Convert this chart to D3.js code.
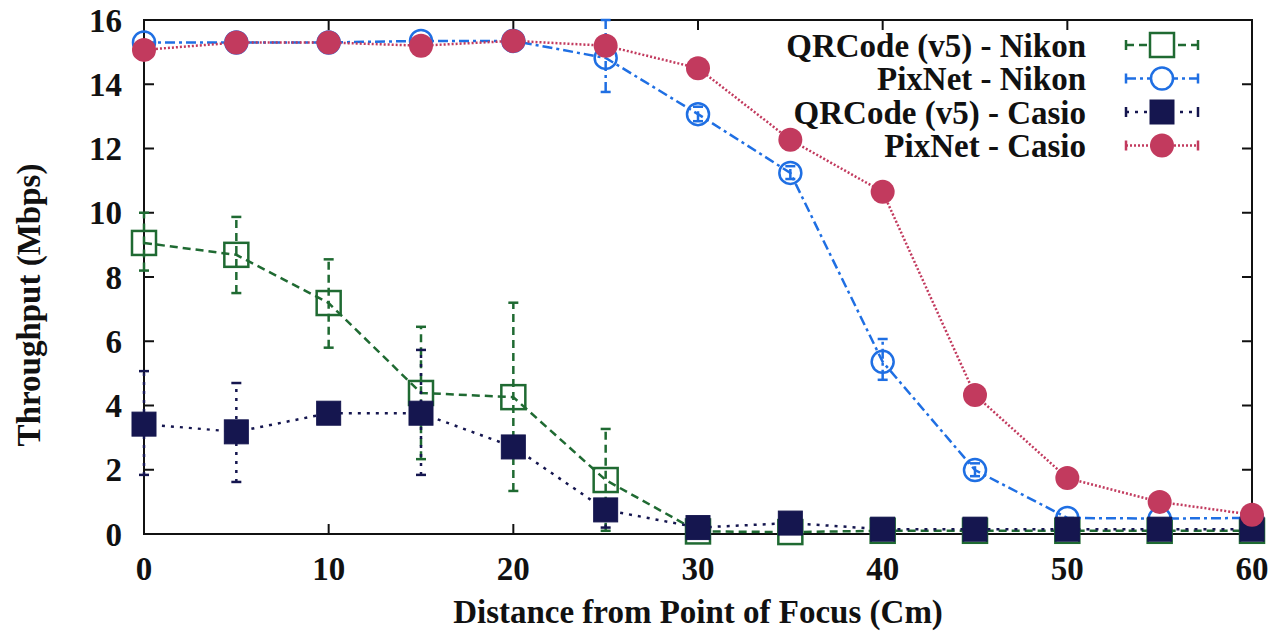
<!DOCTYPE html>
<html>
<head>
<meta charset="utf-8">
<script src="https://cdn.jsdelivr.net/npm/d3@7"></script>
<style>
  body { margin: 0; background: #fff; }
  svg text { font-family: "Liberation Serif", "Times New Roman", serif; font-weight: bold; fill: #111; }
</style>
</head>
<body>
<div id="chart"></div>
<script>
// distance from point of focus (cm)
const distances = [0, 5, 10, 15, 20, 25, 30, 35, 40, 45, 50, 55, 60];

// throughput (Mbps) per series, with error bar low/high
const qrNikon     = [9.06, 8.69, 7.19, 4.39, 4.26, 1.68, 0.08, 0.06, 0.1, 0.1, 0.1, 0.1, 0.1];
const qrNikonLo   = [8.2, 7.5, 5.8, 2.33, 1.34, 0.1, 0.05, 0.05, 0.1, 0.1, 0.1, 0.1, 0.1];
const qrNikonHi   = [10.0, 9.87, 8.55, 6.45, 7.2, 3.27, 0.1, 0.1, 0.1, 0.1, 0.1, 0.1, 0.1];

const pixNikon    = [15.3, 15.3, 15.3, 15.35, 15.35, 14.82, 13.07, 11.24, 5.36, 1.99, 0.5, 0.48, 0.5];
const pixNikonLo  = [15.3, 15.3, 15.3, 15.35, 15.35, 13.76, 12.85, 11.05, 4.8, 1.8, 0.5, 0.48, 0.5];
const pixNikonHi  = [15.3, 15.3, 15.3, 15.35, 15.35, 16.0, 13.3, 11.45, 6.07, 2.2, 0.5, 0.48, 0.5];

const qrCasio     = [3.42, 3.18, 3.76, 3.76, 2.71, 0.75, 0.2, 0.34, 0.15, 0.15, 0.15, 0.15, 0.15];
const qrCasioLo   = [1.84, 1.62, 3.76, 1.84, 2.71, 0.2, 0.2, 0.34, 0.15, 0.15, 0.15, 0.15, 0.15];
const qrCasioHi   = [5.07, 4.7, 3.76, 5.73, 2.71, 0.75, 0.2, 0.34, 0.15, 0.15, 0.15, 0.15, 0.15];

const pixCasio    = [15.07, 15.3, 15.3, 15.2, 15.35, 15.2, 14.5, 12.27, 10.65, 4.33, 1.74, 1.0, 0.6];
const pixCasioLo  = [15.07, 15.3, 15.3, 15.2, 15.35, 15.2, 14.5, 12.27, 10.65, 4.1, 1.74, 1.0, 0.6];
const pixCasioHi  = [15.07, 15.3, 15.3, 15.2, 15.35, 15.2, 14.5, 12.27, 10.65, 4.55, 1.74, 1.0, 0.6];

const seriesNames = ["QRCode (v5) - Nikon", "PixNet - Nikon", "QRCode (v5) - Casio", "PixNet - Casio"];
const xTicks = [0, 10, 20, 30, 40, 50, 60];
const yTicks = [0, 2, 4, 6, 8, 10, 12, 14, 16];

const seriesArr = [
	{name: seriesNames[0], y: qrNikon, lo: qrNikonLo, hi: qrNikonHi, color: "#1f6a32", dash: "8,5", marker: "square", filled: false},
	{name: seriesNames[1], y: pixNikon, lo: pixNikonLo, hi: pixNikonHi, color: "#1f6fe3", dash: "10,4,3,4", marker: "circle", filled: false},
	{name: seriesNames[2], y: qrCasio, lo: qrCasioLo, hi: qrCasioHi, color: "#15164f", dash: "3,6", marker: "square", filled: true},
	{name: seriesNames[3], y: pixCasio, lo: pixCasioLo, hi: pixCasioHi, color: "#c23a5e", dash: "2,2", marker: "circle", filled: true}
];

const w = 1286, h = 633,
	margin = {top: 20, right: 34, bottom: 99, left: 144},
	fontSize = 33,
	fontFamily = "'Liberation Serif', 'Times New Roman', Times, serif",
	markerSize = 24,
	tickLen = 10;

const svg = d3.select("#chart").append("svg").attr("width", w).attr("height", h);

function addText(parent){
	return parent.append("text")
		.attr("font-family", fontFamily)
		.attr("font-weight", "bold")
		.style("font-size", fontSize + "px");
}

const x = d3.scaleLinear().domain([0, 60]).range([margin.left, w - margin.right]);
const y = d3.scaleLinear().domain([0, 16]).range([h - margin.bottom, margin.top]);

// ticks on all four sides, pointing inward
const frame = svg.append("g").attr("stroke", "#111").attr("stroke-width", 2);
xTicks.forEach(function(t){
	frame.append("line").attr("x1", x(t)).attr("x2", x(t)).attr("y1", y(0)).attr("y2", y(0) - tickLen);
	frame.append("line").attr("x1", x(t)).attr("x2", x(t)).attr("y1", y(16)).attr("y2", y(16) + tickLen);
	addText(svg).attr("x", x(t)).attr("y", y(0) + 46)
		.attr("text-anchor", "middle").text(t);
});
yTicks.forEach(function(t){
	frame.append("line").attr("x1", x(0)).attr("x2", x(0) + tickLen).attr("y1", y(t)).attr("y2", y(t));
	frame.append("line").attr("x1", x(60)).attr("x2", x(60) - tickLen).attr("y1", y(t)).attr("y2", y(t));
	addText(svg).attr("x", x(0) - 22).attr("y", y(t)).attr("dy", "0.35em")
		.attr("text-anchor", "end").text(t);
});
frame.append("rect").attr("x", x(0)).attr("y", y(16))
	.attr("width", x(60) - x(0)).attr("height", y(0) - y(16)).attr("fill", "none");

// axis titles
addText(svg).attr("x", (x(0) + x(60)) / 2).attr("y", h - 10)
	.attr("text-anchor", "middle")
	.text("Distance from Point of Focus (Cm)");
addText(svg).attr("transform", "translate(40," + ((y(0) + y(16)) / 2 + 28) + ") rotate(-90)")
	.attr("text-anchor", "middle")
	.text("Throughput (Mbps)");

function drawMarker(g, s, cx, cy){
	if(s.marker === "square"){
		g.append("rect").attr("x", cx - markerSize/2).attr("y", cy - markerSize/2)
			.attr("width", markerSize).attr("height", markerSize)
			.attr("fill", s.filled ? s.color : "none")
			.attr("stroke", s.color).attr("stroke-width", s.filled ? 1 : 2.5);
	}else{
		g.append("circle").attr("cx", cx).attr("cy", cy)
			.attr("r", s.filled ? markerSize/2 : markerSize/2 - 1)
			.attr("fill", s.filled ? s.color : "none")
			.attr("stroke", s.color).attr("stroke-width", s.filled ? 0 : 2.5);
	}
}

const line = d3.line().x(function(d){ return x(d[0]); }).y(function(d){ return y(d[1]); });

seriesArr.forEach(function(s){
	let g = svg.append("g");
	let pts = distances.map(function(d, i){ return [d, s.y[i]]; });
	// error bars
	distances.forEach(function(d, i){
		if(s.hi[i] - s.lo[i] < 0.05) return;
		g.append("line").attr("x1", x(d)).attr("x2", x(d)).attr("y1", y(s.lo[i])).attr("y2", y(s.hi[i]))
			.attr("stroke", s.color).attr("stroke-width", 2.5).attr("stroke-dasharray", s.dash);
		[s.lo[i], s.hi[i]].forEach(function(v){
			g.append("line").attr("x1", x(d) - 5).attr("x2", x(d) + 5).attr("y1", y(v)).attr("y2", y(v))
				.attr("stroke", s.color).attr("stroke-width", 2.5);
		});
	});
	g.append("path").attr("d", line(pts)).attr("fill", "none")
		.attr("stroke", s.color).attr("stroke-width", 2.5).attr("stroke-dasharray", s.dash);
	pts.forEach(function(p){ drawMarker(g, s, x(p[0]), y(p[1])); });
});

// legend
const legend = svg.append("g");
seriesArr.forEach(function(s, i){
	let ly = 45 + i * 33.5,
		x1 = 1126, x2 = 1198, mid = (x1 + x2) / 2;
	addText(legend).attr("x", 1086).attr("y", ly).attr("dy", "0.35em")
		.attr("text-anchor", "end").text(s.name);
	legend.append("line").attr("x1", x1).attr("x2", x2).attr("y1", ly).attr("y2", ly)
		.attr("stroke", s.color).attr("stroke-width", 2.5).attr("stroke-dasharray", s.dash);
	[x1, x2].forEach(function(cx){
		legend.append("line").attr("x1", cx).attr("x2", cx).attr("y1", ly - 5).attr("y2", ly + 5)
			.attr("stroke", s.color).attr("stroke-width", 2.5);
	});
	let mg = legend.append("g");
	if(!s.filled){
		mg.append("rect").attr("x", mid - 11).attr("y", ly - 11).attr("width", 22).attr("height", 22).attr("fill", "#fff");
	}
	drawMarker(mg, s, mid, ly);
});
</script>
</body>
</html>
